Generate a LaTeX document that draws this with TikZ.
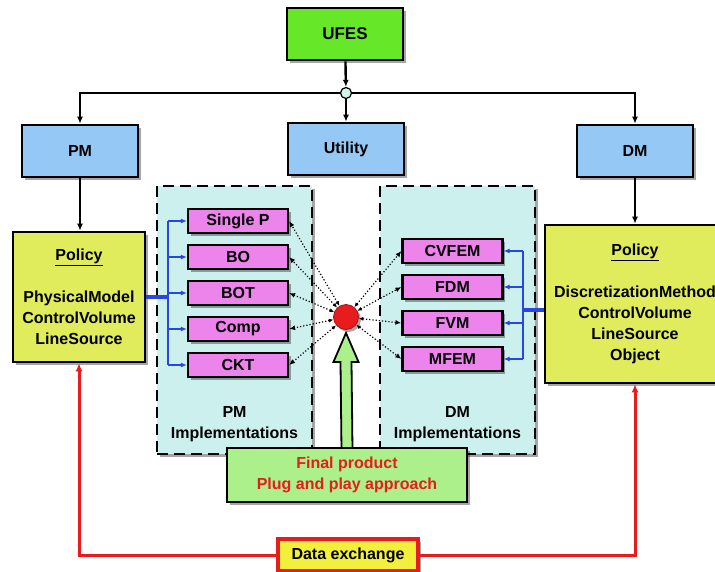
\documentclass[tikz,border=0pt]{standalone}
\usepackage{fontspec}
\setmainfont{Liberation Sans}
\usetikzlibrary{arrows.meta,shadows,calc}
\definecolor{ufesgreen}{RGB}{102,232,40}
\definecolor{pmblue}{RGB}{150,200,245}
\definecolor{polyellow}{RGB}{224,236,92}
\definecolor{implpink}{RGB}{236,132,236}
\definecolor{implcyan}{RGB}{204,240,238}
\definecolor{fpgreen}{RGB}{172,240,140}
\definecolor{dxyellow}{RGB}{242,240,60}
\definecolor{dxred}{RGB}{232,28,28}
\definecolor{busblue}{RGB}{40,70,230}
\definecolor{juncfill}{RGB}{210,245,235}
\tikzset{
  shad/.style={drop shadow={shadow xshift=2.5pt,shadow yshift=-2.5pt,fill=black,opacity=0.35}},
  box/.style={draw=black,line width=2.6pt,align=center,inner sep=0pt,shad},
  ufesbox/.style={box,fill=ufesgreen,minimum width=116,minimum height=52,font=\bfseries\fontsize{17}{20}\selectfont},
  bluebox/.style={box,fill=pmblue,minimum width=116,minimum height=52},
  polbox/.style={box,fill=polyellow},
  pinkbox/.style={box,line width=2.2pt,fill=implpink,minimum width=100,minimum height=24},
  implbox/.style={draw=black,line width=2.8pt,dash pattern=on 11pt off 6pt,fill=implcyan,shad},
  fpbox/.style={box,fill=fpgreen,minimum width=240,minimum height=54,text=dxred},
  dxbox/.style={box,draw=dxred,line width=3.2pt,fill=dxyellow,minimum width=140,minimum height=32},
  arr/.style={line width=2.4pt,-{Latex[length=7pt,width=6pt]}},
  busarr/.style={draw=busblue,line width=1.8pt,-{Latex[length=6pt,width=5pt]}},
  dotarr/.style={line width=1.2pt,dotted,{Latex[length=4.5pt,width=4pt]}-{Latex[length=6pt,width=5pt]}},
  redarr/.style={draw=dxred,line width=3pt,-{Latex[length=8pt,width=7pt]}},
}
\begin{document}
\begin{tikzpicture}[x=1pt,y=-1pt,font=\bfseries\fontsize{16}{21}\selectfont]
\useasboundingbox[fill=white] (0,0) rectangle (715,571);

% top tree
\node[ufesbox] (ufes) at (345,34) {UFES};
\node[bluebox] (pm) at (80,151) {PM};
\node[bluebox] (util) at (346,149) {Utility};
\node[bluebox] (dm) at (635,151) {DM};
\node[circle,draw=black,line width=1.2pt,fill=juncfill,minimum size=11,inner sep=0pt] (junc) at (346,93) {};

\draw[arr] (ufes) -- (junc);
\draw[arr] (junc) -- (util);
\draw[arr] (junc.west) -| (pm.north);
\draw[arr] (junc.east) -| (dm.north);

% implementation containers
\node[implbox,minimum width=155,minimum height=268] (pmi) at (234.5,320) {};
\node[implbox,minimum width=155,minimum height=268] (dmi) at (457.5,320) {};
\node[align=center] (pmlab) at (234.5,424) {PM\\Implementations};
\node[align=center] (dmlab) at (457.5,424) {DM\\Implementations};

% policies
\node[polbox,minimum width=132,minimum height=130] (polL) at (79,297)
  {\underline{Policy}\\[21pt]PhysicalModel\\ControlVolume\\LineSource};
\node[polbox,minimum width=180,minimum height=158] (polR) at (635,304)
  {\underline{Policy}\\[21pt]DiscretizationMethod\\ControlVolume\\LineSource\\Object};

\draw[arr] (pm) -- (pm.south |- polL.north);
\draw[arr] (dm) -- (dm.south |- polR.north);

% PM implementations
\node[pinkbox] (sp) at (238,221) {Single P};
\node[pinkbox] (bo) at (238,257) {BO};
\node[pinkbox] (bot) at (238,293) {BOT};
\node[pinkbox] (comp) at (238,329) {Comp};
\node[pinkbox] (ckt) at (238,365) {CKT};

% DM implementations
\node[pinkbox] (cvfem) at (452.5,251) {CVFEM};
\node[pinkbox] (fdm) at (452.5,287) {FDM};
\node[pinkbox] (fvm) at (452.5,323) {FVM};
\node[pinkbox] (mfem) at (452.5,359) {MFEM};

% blue buses
\coordinate (bl) at (168,297);
\draw[draw=busblue,line width=4.5pt] (polL.east |- bl) -- (bl);
\draw[draw=busblue,line width=2pt] (bl |- sp.west) -- (bl |- ckt.west);
\foreach \t in {sp,bo,bot,comp,ckt} \draw[busarr] (bl |- \t.west) -- (\t.west);

\coordinate (br) at (523,310);
\draw[draw=busblue,line width=4.5pt] (polR.west |- br) -- (br);
\draw[draw=busblue,line width=2pt] (br |- cvfem.east) -- (br |- mfem.east);
\foreach \t in {cvfem,fdm,fvm,mfem} \draw[busarr] (br |- \t.east) -- (\t.east);

% centre
\node[circle,draw=dxred!70!black,line width=0.8pt,fill=dxred,minimum size=25,inner sep=0pt,shad] (rc) at (346,317) {};
\foreach \t in {sp,bo,bot,comp,ckt} \draw[dotarr] (rc) -- (\t.east);
\foreach \t in {cvfem,fdm,fvm,mfem} \draw[dotarr] (rc) -- (\t.west);

% hollow arrow and final product
\coordinate (fptop) at (347,448);
\fill[fpgreen,draw=black,line width=1.8pt]
  ($(fptop)+(-5.5,2)$) -- ($(rc.south)+(-5.5,32)$) -- ($(rc.south)+(-12.5,32)$)
  -- ($(rc.south)+(0,3)$) -- ($(rc.south)+(12.5,32)$) -- ($(rc.south)+(5.5,32)$)
  -- ($(fptop)+(5.5,2)$) -- cycle;
\node[fpbox] (fp) at (347,475) {Final product\\Plug and play approach};

% data exchange
\node[dxbox] (dx) at (348,555) {Data exchange};
\draw[redarr] (dx.west) -| (polL.south);
\draw[redarr] (dx.east) -| (polR.south);
\end{tikzpicture}
\end{document}
